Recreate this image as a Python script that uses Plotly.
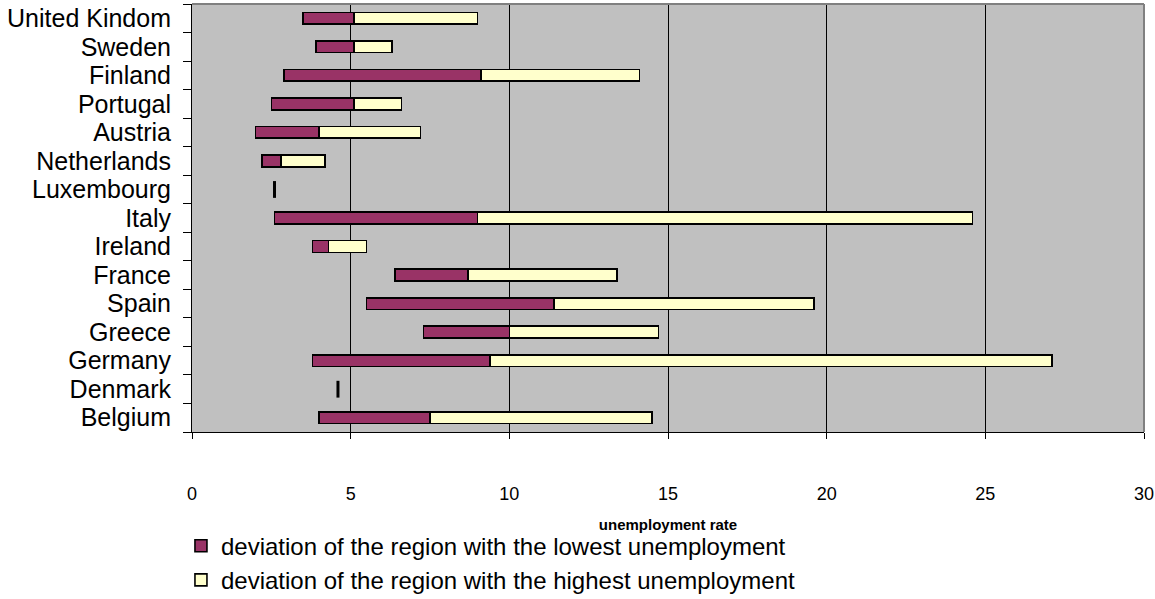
import plotly.graph_objects as go

countries = ["Belgium", "Denmark", "Germany", "Greece", "Spain", "France", "Ireland",
             "Italy", "Luxembourg", "Netherlands", "Austria", "Portugal", "Finland",
             "Sweden", "United Kindom"]
lowest_region = [4.0, 4.6, 3.8, 7.3, 5.5, 6.4, 3.8, 2.6, 2.6, 2.2, 2.0, 2.5, 2.9, 3.9, 3.5]
national_rate = [7.5, 4.6, 9.4, 10.0, 11.4, 8.7, 4.3, 9.0, 2.6, 2.8, 4.0, 5.1, 9.1, 5.1, 5.1]
highest_region = [14.5, 4.6, 27.1, 14.7, 19.6, 13.4, 5.5, 24.6, 2.6, 4.2, 7.2, 6.6, 14.1, 6.3, 9.0]
x_ticks = [0, 5, 10, 15, 20, 25, 30]

low_dev = [n - l for n, l in zip(national_rate, lowest_region)]
high_dev = [h - n for h, n in zip(highest_region, national_rate)]

FONT = "Liberation Sans, Arial, sans-serif"

fig = go.Figure()
fig.add_trace(go.Bar(
    y=countries, x=lowest_region, orientation="h",
    marker=dict(color="rgba(0,0,0,0)", line=dict(width=0)),
    showlegend=False, hoverinfo="skip"))
fig.add_trace(go.Bar(
    y=countries, x=low_dev, orientation="h",
    name="deviation of the region with the lowest unemployment",
    legendgroup="a",
    marker=dict(color="#993366", line=dict(color="#000000", width=1.6))))
fig.add_trace(go.Bar(
    y=countries, x=high_dev, orientation="h",
    name="deviation of the region with the highest unemployment",
    legendgroup="b",
    marker=dict(color="#FFFFCC", line=dict(color="#000000", width=1.6))))

# countries with a single region: zero-width range drawn as a short black tick
single_y = [c for c, l, h in zip(countries, lowest_region, highest_region) if h == l]
single_x = [l for l, h in zip(lowest_region, highest_region) if h == l]
fig.add_trace(go.Scatter(
    y=single_y, x=single_x, mode="markers",
    marker=dict(symbol="line-ns", size=12, line=dict(color="#000000", width=3)),
    showlegend=False, hoverinfo="skip"))

fig.update_layout(
    width=1155, height=599,
    barmode="stack", bargap=0.59,
    plot_bgcolor="#C0C0C0", paper_bgcolor="#FFFFFF",
    margin=dict(l=192, r=11, t=4, b=167, autoexpand=False),
    font=dict(family=FONT, color="#000000"),
    showlegend=True,
    legend=dict(
        x=-0.0116, y=-0.214, xanchor="left", yanchor="top",
        orientation="v", traceorder="normal",
        font=dict(size=24, family=FONT),
        bgcolor="rgba(0,0,0,0)", itemwidth=30,
        tracegroupgap=0),
    shapes=[
        dict(type="line", xref="paper", yref="paper", x0=0, x1=1, y0=1, y1=1,
             line=dict(color="#808080", width=2)),
        dict(type="line", xref="paper", yref="paper", x0=1, x1=1, y0=0, y1=1,
             line=dict(color="#808080", width=2)),
    ],
)
fig.update_xaxes(
    range=[0, 30], tickvals=x_ticks, ticktext=[str(v) for v in x_ticks],
    showgrid=True, gridcolor="#000000", gridwidth=1,
    zeroline=False, showline=True, linecolor="#000000", linewidth=1,
    ticks="outside", ticklen=6, tickcolor="#000000",
    tickfont=dict(size=18, family=FONT), ticklabelstandoff=39,
    title=dict(text="<b>unemployment rate</b>", font=dict(size=15, family=FONT), standoff=16),
    fixedrange=True, automargin=False)
fig.update_yaxes(
    categoryorder="array", categoryarray=countries,
    tickmode="array", tickvals=countries, ticktext=countries,
    showgrid=False, zeroline=False, showline=True, linecolor="#000000", linewidth=1,
    ticks="outside", ticklen=8, tickcolor="#000000", tickson="boundaries",
    tickfont=dict(size=25, family=FONT), ticklabelstandoff=15,
    range=[-0.5, len(countries) - 0.5], fixedrange=True, automargin=False)

fig.write_html("out.html")
